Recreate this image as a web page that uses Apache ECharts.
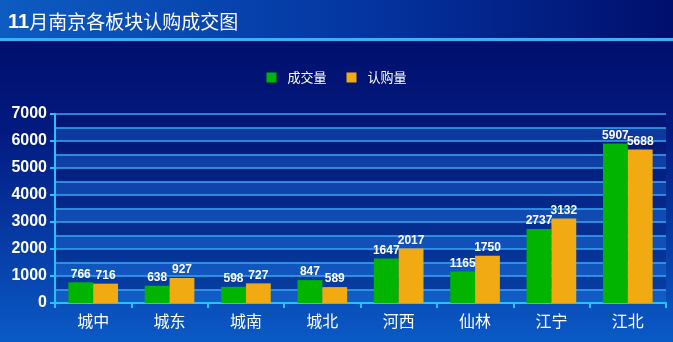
<!DOCTYPE html>
<html><head><meta charset="utf-8">
<script src="https://cdn.jsdelivr.net/npm/echarts@6/dist/echarts.min.js"></script>
<style>html,body{margin:0;padding:0;}#c{width:673px;height:342px;}</style>
</head><body><div id="c"></div>
<script>
const categories = ['城中','城东','城南','城北','河西','仙林','江宁','江北'];
const dealVolume = [766,638,598,847,1647,1165,2737,5907];
const subscribeVolume = [716,927,727,589,2017,1750,3132,5688];
const seriesNames = ['成交量','认购量'];
const yTicks = [0,1000,2000,3000,4000,5000,6000,7000];

const chart = echarts.init(document.getElementById('c'));
const labelStyle = {show:true, position:'top', distance:2, color:'#fff', fontWeight:'bold', fontSize:12, fontFamily:'Liberation Sans, Arial'};
chart.setOption({
  animation:false,
  graphic:[
    {type:'rect', z:-10, shape:{x:0,y:0,width:673,height:38}, style:{fill:new echarts.graphic.LinearGradient(0,0,1,0,[{offset:0,color:'#0c5cc2'},{offset:0.55,color:'#0434a0'},{offset:1,color:'#000e6c'}])}},
    {type:'rect', z:-10, shape:{x:0,y:38,width:673,height:3}, style:{fill:'#3cb0f8'}},
    {type:'rect', z:-10, shape:{x:0,y:41,width:673,height:301}, style:{fill:new echarts.graphic.LinearGradient(0,0,0,1,[{offset:0,color:'#000f6c'},{offset:0.3,color:'#021a80'},{offset:1,color:'#0a5ac6'}])}}
  ],
  title:{
    text:'{b|11}{n|月南京各板块认购成交图}', left:3, top:7,
    textStyle:{rich:{
      b:{color:'#fff', fontSize:20, fontWeight:'bold', fontFamily:'Liberation Sans, Arial'},
      n:{color:'#fff', fontSize:19, fontWeight:'normal', fontFamily:'Noto Sans CJK SC'}
    }}
  },
  legend:{
    top:66, left:'center', icon:'rect', itemWidth:10, itemHeight:10, itemGap:20,
    textStyle:{color:'#fff', fontSize:13, fontFamily:'Noto Sans CJK SC', padding:[0,0,0,6]},
    data:seriesNames
  },
  grid:{left:55, right:7, top:114, bottom:39, containLabel:false},
  xAxis:{
    type:'category', data:categories,
    axisLine:{lineStyle:{color:'#22c4ff', width:2}},
    axisTick:{show:true, length:5, alignWithLabel:false, lineStyle:{color:'#22c4ff', width:2}},
    axisLabel:{color:'#fff', fontSize:16, margin:10, fontFamily:'Noto Sans CJK SC'}
  },
  yAxis:[
    {type:'value', min:0, max:7000, interval:1000,
     axisLine:{show:true, lineStyle:{color:'#22c4ff', width:2}},
     axisTick:{show:true, length:5, lineStyle:{color:'#22c4ff', width:2}},
     axisLabel:{color:'#fff', fontSize:16, fontWeight:'bold', margin:8, fontFamily:'Liberation Sans, Arial',
       formatter:v=>yTicks.includes(v)?String(v):''},
     splitLine:{show:false}
    },
    {type:'value', min:0, max:7000, interval:500, position:'left',
     axisLine:{show:false}, axisTick:{show:false}, axisLabel:{show:false},
     splitLine:{show:true, lineStyle:{color:'#3aa6f2', width:1.5}},
     splitArea:{show:true, areaStyle:{color:['rgba(40,130,230,0.3)','rgba(0,10,80,0.2)']}}
    }
  ],
  series:[
    {name:seriesNames[0], type:'bar', data:dealVolume, barGap:'0%', barCategoryGap:'35%',
     itemStyle:{color:'#00b400'}, label:labelStyle},
    {name:seriesNames[1], type:'bar', data:subscribeVolume,
     itemStyle:{color:'#f2aa12'}, label:labelStyle}
  ]
});
</script></body></html>
